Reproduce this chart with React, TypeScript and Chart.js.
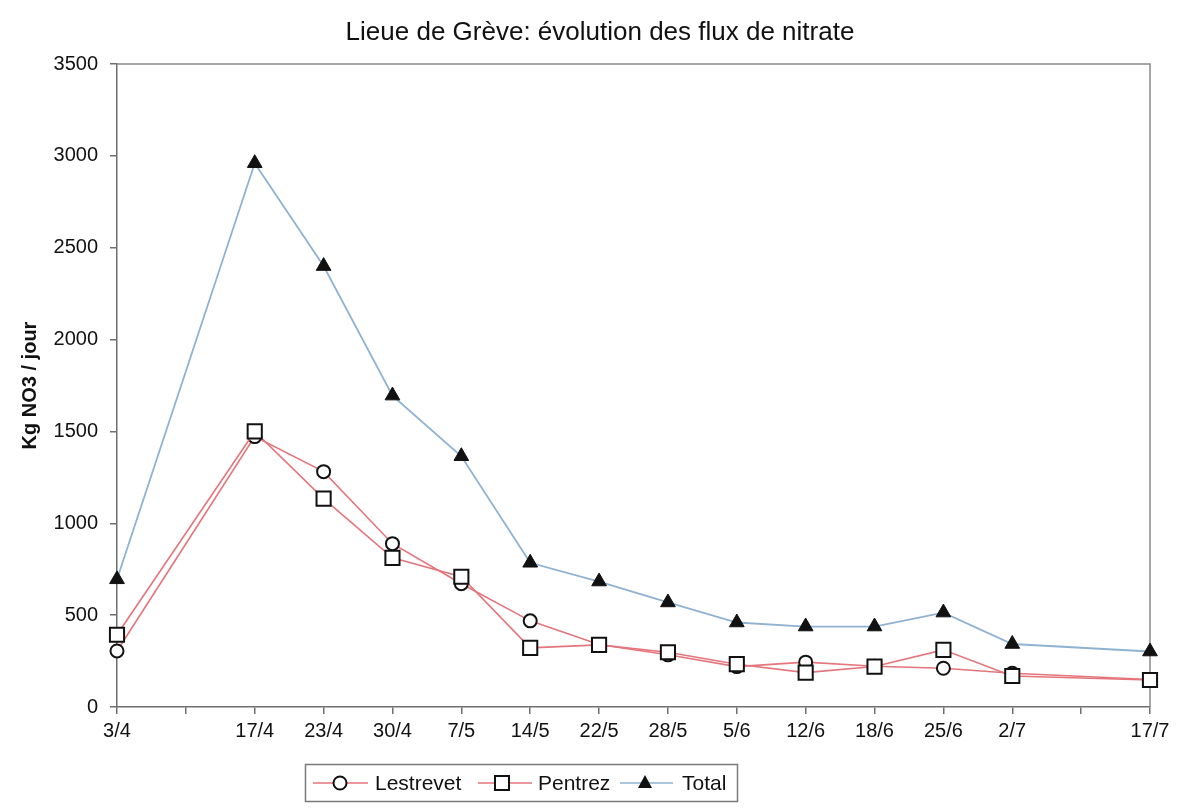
import React, { useEffect, useRef } from "react";
import { Chart, registerables } from "chart.js";

Chart.register(...registerables);

// Sampling dates (blank entries keep the weekly spacing on the category axis)
const dates = ["3/4", "", "17/4", "23/4", "30/4", "7/5", "14/5", "22/5", "28/5", "5/6", "12/6", "18/6", "25/6", "2/7", "", "17/7"];

// Nitrate flux, kg NO3 per day
const lestrevet = [305, null, 1472, 1281, 889, 671, 469, 340, 284, 220, 244, 222, 211, 184, null, 150];
const pentrez = [393, null, 1500, 1134, 812, 709, 322, 338, 298, 233, 187, 220, 311, 169, null, 147];
const total = [695, null, 2960, 2400, 1695, 1365, 785, 683, 569, 460, 438, 438, 514, 343, null, 302];

const yTicks = [0, 500, 1000, 1500, 2000, 2500, 3000, 3500];

const TITLE = "Lieue de Grève: évolution des flux de nitrate";
const RED = "#e4757b";
const BLUE = "#8fb2d2";
const AXIS = "#6e6e6e";
const FONT = "'Liberation Sans', Arial, sans-serif";

type Marker = "circle" | "rect" | "triangle";

function drawMarker(ctx: CanvasRenderingContext2D, kind: Marker, x: number, y: number) {
  ctx.save();
  ctx.lineWidth = 2;
  ctx.strokeStyle = "#111";
  ctx.beginPath();
  if (kind === "circle") {
    ctx.fillStyle = "#fff";
    ctx.arc(x, y, 6.5, 0, Math.PI * 2);
    ctx.fill();
    ctx.stroke();
  } else if (kind === "rect") {
    ctx.fillStyle = "#fff";
    ctx.rect(x - 7, y - 7, 14, 14);
    ctx.fill();
    ctx.stroke();
  } else {
    ctx.fillStyle = "#111";
    ctx.moveTo(x, y - 8);
    ctx.lineTo(x + 7, y + 5);
    ctx.lineTo(x - 7, y + 5);
    ctx.closePath();
    ctx.fill();
  }
  ctx.restore();
}

// Chart heading and the frame on the top and right sides of the plot area
const framePlugin = {
  id: "plotFrame",
  beforeDatasetsDraw(chart: any) {
    const { ctx, chartArea } = chart;
    ctx.save();
    ctx.strokeStyle = "#8a8a8a";
    ctx.lineWidth = 1.5;
    ctx.beginPath();
    ctx.moveTo(chartArea.left, chartArea.top);
    ctx.lineTo(chartArea.right, chartArea.top);
    ctx.lineTo(chartArea.right, chartArea.bottom);
    ctx.stroke();

    ctx.fillStyle = "#111";
    ctx.font = `26px ${FONT}`;
    ctx.textAlign = "center";
    ctx.textBaseline = "middle";
    ctx.fillText(TITLE, 600, 33);
    ctx.restore();
  },
};

// Boxed legend under the axis with line + marker swatches
const legendItems: { label: string; color: string; marker: Marker; x1: number; x2: number; mx: number; tx: number }[] = [
  { label: "Lestrevet", color: RED, marker: "circle", x1: 313, x2: 368, mx: 340, tx: 375 },
  { label: "Pentrez", color: RED, marker: "rect", x1: 478, x2: 532, mx: 502, tx: 538 },
  { label: "Total", color: BLUE, marker: "triangle", x1: 620, x2: 673, mx: 645, tx: 682 },
];

const boxLegendPlugin = {
  id: "boxLegend",
  afterDraw(chart: any) {
    const ctx: CanvasRenderingContext2D = chart.ctx;
    const cy = 783;
    ctx.save();
    ctx.fillStyle = "#fff";
    ctx.fillRect(305, 764, 432, 37);
    ctx.strokeStyle = "#7a7a7a";
    ctx.lineWidth = 1.5;
    ctx.strokeRect(305.5, 764.5, 432, 37);
    ctx.font = `21px ${FONT}`;
    ctx.textBaseline = "middle";
    ctx.textAlign = "left";
    for (const it of legendItems) {
      ctx.strokeStyle = it.color;
      ctx.lineWidth = 1.5;
      ctx.beginPath();
      ctx.moveTo(it.x1, cy);
      ctx.lineTo(it.x2, cy);
      ctx.stroke();
      drawMarker(ctx, it.marker, it.mx, cy);
      ctx.fillStyle = "#111";
      ctx.fillText(it.label, it.tx, cy + 1);
    }
    ctx.restore();
  },
};

export default function App() {
  const canvasRef = useRef<HTMLCanvasElement | null>(null);

  useEffect(() => {
    if (!canvasRef.current) return;
    const chart = new Chart(canvasRef.current, {
      type: "line",
      data: {
        labels: dates,
        datasets: [
          {
            label: "Lestrevet",
            data: lestrevet,
            borderColor: RED,
            borderWidth: 1.6,
            pointStyle: "circle",
            pointRadius: 6.5,
            pointBorderWidth: 2,
            pointBorderColor: "#111",
            pointBackgroundColor: "#fff",
            spanGaps: true,
            tension: 0,
            order: 2,
          },
          {
            label: "Pentrez",
            data: pentrez,
            borderColor: RED,
            borderWidth: 1.6,
            pointStyle: "rect",
            pointRadius: 10,
            pointBorderWidth: 2,
            pointBorderColor: "#111",
            pointBackgroundColor: "#fff",
            spanGaps: true,
            tension: 0,
            order: 1,
          },
          {
            label: "Total",
            data: total,
            borderColor: BLUE,
            borderWidth: 1.8,
            pointStyle: "triangle",
            pointRadius: 8.5,
            pointBorderWidth: 1,
            pointBorderColor: "#111",
            pointBackgroundColor: "#111",
            spanGaps: true,
            tension: 0,
            order: 0,
          },
        ],
      },
      options: {
        responsive: false,
        animation: false,
        layout: { padding: { left: 0, right: 34, top: 64, bottom: 0 } },
        plugins: {
          legend: { display: false },
          tooltip: { enabled: false },
          title: { display: false },
        },
        scales: {
          x: {
            type: "category",
            offset: false,
            grid: {
              drawOnChartArea: false,
              drawTicks: true,
              tickLength: 7,
              color: AXIS,
              lineWidth: 1.5,
            },
            border: { display: true, color: AXIS, width: 1.5 },
            ticks: {
              autoSkip: false,
              maxRotation: 0,
              color: "#111",
              padding: 5,
              font: { family: FONT, size: 20 },
            },
            afterFit(scale: any) {
              scale.height = 101;
            },
          },
          y: {
            min: 0,
            max: 3500,
            afterBuildTicks(scale: any) {
              scale.ticks = yTicks.map((v) => ({ value: v }));
            },
            grid: {
              drawOnChartArea: false,
              drawTicks: true,
              tickLength: 7,
              color: AXIS,
              lineWidth: 1.5,
            },
            border: { display: true, color: AXIS, width: 1.5 },
            ticks: {
              color: "#111",
              padding: 12,
              font: { family: FONT, size: 20 },
              callback: (v: any) => String(v),
            },
            title: {
              display: true,
              text: "Kg NO3 / jour",
              color: "#111",
              font: { family: FONT, size: 20, weight: "bold" },
              padding: { top: 18, bottom: 0 },
            },
            afterFit(scale: any) {
              scale.width = 117;
            },
          },
        },
      },
      plugins: [framePlugin, boxLegendPlugin],
    });
    return () => chart.destroy();
  }, []);

  return (
    <div style={{ position: "fixed", left: 0, top: 0, width: 1184, height: 808, background: "#fff" }}>
      <canvas ref={canvasRef} width={1184} height={808} />
    </div>
  );
}
